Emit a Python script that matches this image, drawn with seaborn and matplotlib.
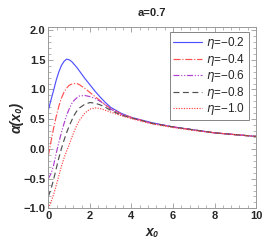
import numpy as np
import pandas as pd
import matplotlib
matplotlib.use("Agg")
import matplotlib.pyplot as plt
import seaborn as sns
from matplotlib.ticker import MultipleLocator

x0 = [0, 0.125, 0.25, 0.375, 0.5, 0.625, 0.75, 0.875, 1.0, 1.125, 1.25, 1.375, 1.5, 1.75,
      2.0, 2.25, 2.5, 2.75, 3.0, 3.5, 4, 5, 6, 7, 8, 9, 10]

eta_02 = [0.65, 0.82, 0.98, 1.15, 1.29, 1.40, 1.47, 1.51, 1.50, 1.47, 1.42, 1.37, 1.31, 1.19,
          1.08, 0.97, 0.87, 0.78, 0.70, 0.60, 0.53, 0.44, 0.37, 0.32, 0.27, 0.24, 0.21]
eta_04 = [-0.12, 0.12, 0.34, 0.54, 0.71, 0.85, 0.95, 1.02, 1.07, 1.09, 1.10, 1.10, 1.08, 1.02,
          0.95, 0.88, 0.81, 0.74, 0.68, 0.59, 0.53, 0.43, 0.37, 0.32, 0.27, 0.24, 0.21]
eta_06 = [-0.50, -0.42, -0.28, -0.08, 0.10, 0.27, 0.42, 0.56, 0.67, 0.76, 0.82, 0.86, 0.89, 0.90,
          0.88, 0.85, 0.80, 0.74, 0.67, 0.58, 0.52, 0.43, 0.37, 0.32, 0.27, 0.24, 0.21]
eta_08 = [-0.80, -0.68, -0.52, -0.34, -0.16, 0.00, 0.14, 0.27, 0.38, 0.48, 0.57, 0.64, 0.69, 0.75,
          0.78, 0.77, 0.74, 0.70, 0.65, 0.57, 0.52, 0.43, 0.37, 0.32, 0.27, 0.24, 0.21]
eta_10 = [-1.00, -0.90, -0.77, -0.62, -0.46, -0.30, -0.16, -0.04, 0.07, 0.19, 0.30, 0.40, 0.48, 0.60,
          0.67, 0.69, 0.68, 0.65, 0.62, 0.56, 0.51, 0.42, 0.36, 0.31, 0.27, 0.24, 0.21]

labels = ["-0.2", "-0.4", "-0.6", "-0.8", "-1.0"]
series = [eta_02, eta_04, eta_06, eta_08, eta_10]
colors = ["#5050ff", "#ff5050", "#b040d0", "#505050", "#ff4040"]
styles = ["-", (0, (6, 1.5, 1, 1.5)), (0, (5, 1.5, 1, 1.5, 1, 1.5)), (0, (5, 3)), (0, (1, 1.2))]

sns.set_theme(style="ticks")
plt.rcParams["font.family"] = ["Liberation Sans", "DejaVu Sans"]

fig = plt.figure(figsize=(2.73, 2.46), dpi=100)
ax = fig.add_axes([0.177, 0.153, 0.761, 0.737])

for lab, ys, c, ls in zip(labels, series, colors, styles):
    df = pd.DataFrame({"x": x0, "y": ys})
    sns.lineplot(data=df, x="x", y="y", ax=ax, color=c, linestyle=ls, lw=0.85,
                 label=r"$\eta$=" + lab.replace("-", "\u2212"))

ax.set_xlim(0, 10)
ax.set_ylim(-1.0, 2.05)
ax.xaxis.set_major_locator(MultipleLocator(2))
ax.xaxis.set_minor_locator(MultipleLocator(0.4))
ax.yaxis.set_minor_locator(MultipleLocator(0.1))
ax.set_yticks([-1.0, -0.5, 0.0, 0.5, 1.0, 1.5, 2.0])
ax.set_yticklabels(["\u22121.0", "\u22120.5", "0.0", "0.5", "1.0", "1.5", "2.0"])
ax.tick_params(which="both", direction="in", top=True, right=True, color="#999999",
               labelsize=8, pad=2)
ax.tick_params(which="major", length=3.5, width=0.6)
ax.tick_params(which="minor", length=2, width=0.5)
for t in ax.get_xticklabels() + ax.get_yticklabels():
    t.set_fontweight("bold")
for s in ax.spines.values():
    s.set_color("#999999")
    s.set_linewidth(0.7)

ax.set_xlabel("x\u2080", fontsize=10, fontweight="bold", fontstyle="italic", labelpad=3)
ax.set_ylabel("\u03b1(x\u2080)", fontsize=10, fontweight="bold", fontstyle="italic", labelpad=0)
ax.set_title("a=0.7", fontsize=8, fontweight="bold", pad=8)

leg = ax.legend(loc="upper right", bbox_to_anchor=(0.975, 0.985), fontsize=8.5,
                frameon=True, fancybox=False, edgecolor="#666666", handlelength=2.4,
                handletextpad=0.4, borderpad=0.25, labelspacing=0.05, borderaxespad=0.2)
leg.get_frame().set_linewidth(0.7)

fig.savefig("out.png", dpi=100)
